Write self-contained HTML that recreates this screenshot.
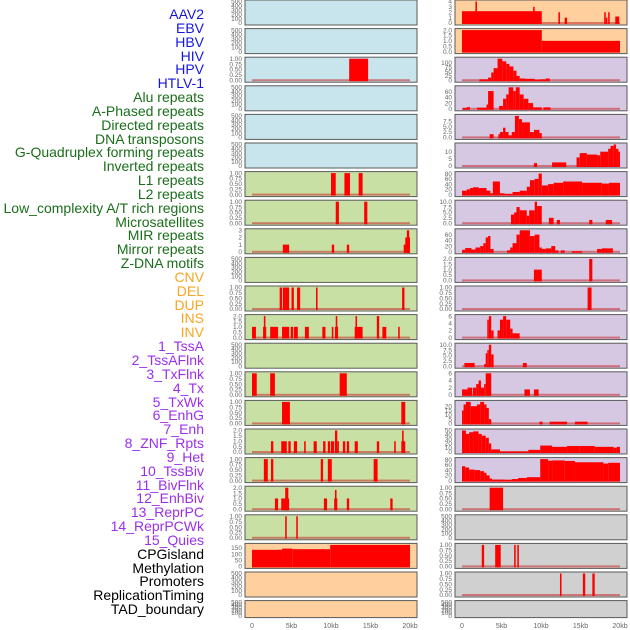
<!DOCTYPE html>
<html><head><meta charset="utf-8">
<style>
html,body{margin:0;padding:0;background:#fff;width:630px;height:630px;overflow:hidden}
#labels{position:absolute;left:0;top:0;width:204px;height:630px}
.lb{position:absolute;right:0;font-family:"Liberation Sans",sans-serif;font-size:14px;line-height:14px;white-space:nowrap}
svg{position:absolute;left:0;top:0}
</style></head><body>
<div id="labels"></div>
<svg id="chart" width="630" height="630"></svg>
<script>
// ---- track labels ----
const labelNames = ["AAV2","EBV","HBV","HIV","HPV","HTLV-1","Alu repeats","A-Phased repeats","Directed repeats","DNA transposons","G-Quadruplex forming repeats","Inverted repeats","L1 repeats","L2 repeats","Low_complexity A/T rich regions","Microsatellites","MIR repeats","Mirror repeats","Z-DNA motifs","CNV","DEL","DUP","INS","INV","1_TssA","2_TssAFlnk","3_TxFlnk","4_Tx","5_TxWk","6_EnhG","7_Enh","8_ZNF_Rpts","9_Het","10_TssBiv","11_BivFlnk","12_EnhBiv","13_ReprPC","14_ReprPCWk","15_Quies","CPGisland","Methylation","Promoters","ReplicationTiming","TAD_boundary"];
const labelGroups = [6,13,5,15,5];
const groupColors = ["#1515e0","#1a6e1a","#f5a623","#9b30e8","#000000"];

// ---- tick label sets ----
const t500 = ["0","100","200","300","400","500"], v500=[0,100,200,300,400,500];
const t1 = ["0.00","0.25","0.50","0.75","1.00"], v1=[0,0.25,0.5,0.75,1];
const t2 = ["0.0","0.5","1.0","1.5","2.0"], v2=[0,0.5,1,1.5,2];
const t3 = ["0","1","2","3"], v3=[0,1,2,3];
const tCpg=["0","50","100","150"], vCpg=[0,50,100,150];
const t4=["0","1","2","3","4"], v4=[0,1,2,3,4];
const tHpv=["0","25","50","75","100"], vHpv=[0,25,50,75,100];
const t60=["0","20","40","60"], v60=[0,20,40,60];
const t75=["0.0","2.5","5.0","7.5"], v75=[0,2.5,5,7.5];
const t10=["0","5","10"], v10=[0,5,10];
const t80=["0","20","40","60","80"], v80=[0,20,40,60,80];
const t100=["0.0","2.5","5.0","7.5","10.0"], v100=[0,2.5,5,7.5,10];
const t6=["0","2","4","6"], v6=[0,2,4,6];
const t20=["0","5","10","15","20"], v20=[0,5,10,15,20];
const t50=["0","10","20","30","40","50"], v50=[0,10,20,30,40,50];

// ---- middle column data [startKb, endKb, value] ----
const m3=[[12.3,14.7,1]];
const m7=[[10.0,10.6,1],[11.7,12.4,1],[13.5,14.0,1]];
const m8=[[10.6,11.0,1],[14.2,14.6,1]];
const m9=[[3.9,4.7,1],[10.1,10.4,1],[12.0,12.3,1],[19.2,20,1],[19.4,20,2],[19.6,19.9,3]];
const m11=[[3.5,3.8,1],[3.9,4.3,1],[4.3,4.7,1],[5.0,5.3,1],[5.7,6.1,1],[8.1,8.3,1],[19.0,19.3,1]];
const m12=[[0,0.5,1],[1.4,1.8,1],[1.5,1.7,2],[2.3,3.3,1],[3.8,4.7,1],[4.9,5.2,1],[5.3,5.8,1],[6.7,7.2,1],[8.9,9.3,1],[10.1,10.3,1],[10.5,10.9,1],[10.6,10.8,2],[13.0,14.0,1],[13.1,13.3,2],[15.8,16.1,2],[16.5,17.0,1],[18.5,18.7,1]];
const m14=[[0,0.6,1],[2.3,2.9,1],[11.1,12.0,1]];
const m15=[[3.8,4.8,1],[18.9,19.4,1]];
const m16=[[2.4,2.7,1],[3.7,4.4,1],[4.6,4.9,1],[5.3,5.7,1],[6.6,6.8,1],[7.8,8.2,1],[9.0,9.3,1],[9.6,9.9,1],[10.0,10.4,1],[10.5,10.8,2],[10.8,11.0,1],[11.5,11.8,1],[12.0,12.3,1],[13.0,13.4,1],[15.8,16.1,1],[18.0,18.2,1],[18.9,19.4,1],[19.0,19.2,2]];
const m17=[[1.5,2.0,1],[2.4,2.7,1],[8.7,9.0,1],[9.6,10.1,1],[15.4,15.9,1]];
const m18=[[2.9,3.3,1],[3.7,4.7,1],[4.2,4.6,2],[9.1,9.5,1],[10.4,10.8,1],[10.5,10.7,1.8],[12.0,12.3,1],[17.5,17.8,1]];
const m19=[[4.2,4.4,1],[5.6,5.8,1]];
const m20=[[0,3.8,135],[3.8,5.1,145],[5.1,9.9,140],[9.9,20,175]];

// ---- right column data ----
const r1=[[0,10.1,2.2],[1.7,1.9,4],[9.0,9.2,3],[12.2,12.4,2],[13.0,13.3,1],[18.0,18.2,2],[18.2,18.4,1],[18.5,18.7,2],[19.4,19.9,1.2]];
const r2=[[0,10.1,2],[10.1,20,1]];
const r3=[[2.2,3.3,5],[3.3,3.7,15],[3.7,4.0,45],[4.0,4.5,70],[4.5,5.1,125],[5.1,5.6,110],[5.6,6.0,95],[6.0,6.5,80],[6.5,6.9,55],[6.9,7.3,25],[7.3,8.0,10],[8.0,9.2,8],[9.2,9.9,3],[9.9,10.6,5],[10.6,11.1,10]];
const r4=[[0.1,0.6,3],[0.6,1.0,6],[1.9,3.1,4],[3.1,3.3,15],[3.3,4.0,62],[4.7,5.2,10],[5.2,5.6,35],[5.6,5.9,50],[5.9,6.5,75],[6.5,6.8,62],[6.8,7.3,75],[7.3,7.8,50],[7.8,8.4,35],[8.4,9.0,20],[9.0,10.1,5],[10.3,11.2,5]];
const r5=[[3.5,4.0,1.5],[4.6,4.8,1.5],[4.8,5.2,2.5],[5.2,5.5,4.5],[5.5,5.9,2.5],[5.9,6.3,1],[6.3,6.7,2.5],[6.7,7.2,10],[7.2,7.6,8.5],[7.6,8.6,7],[8.6,9.1,2.5],[9.1,9.8,3.5],[9.8,10.1,2]];
const r6=[[9.1,9.5,2],[11.4,13.2,2.5],[14.5,14.9,6],[14.9,15.8,9],[15.8,17.1,8],[17.1,17.5,7.5],[17.5,18.5,10],[18.5,18.8,12],[18.8,19.2,14],[19.2,19.5,15],[19.5,19.8,12],[19.8,20,10]];
const r7=[[0,0.6,15],[0.6,1.0,20],[1.0,1.4,25],[1.4,2.1,28],[2.1,3.1,25],[3.1,3.6,15],[3.6,3.9,5],[3.9,4.8,50],[4.8,5.4,5],[5.4,6.4,2],[6.4,7.3,10],[7.3,8.2,15],[8.2,8.6,30],[8.6,9.2,55],[9.2,9.7,60],[9.7,10.1,80],[10.1,10.9,35],[10.9,11.6,40],[11.6,12.8,45],[12.8,15.2,50],[15.2,17.7,45],[17.7,18.6,42],[18.6,20,45]];
const r8=[[6.2,6.6,4],[6.6,6.9,5],[6.9,7.3,7.5],[7.3,8.2,6],[8.2,8.5,3.5],[8.5,9.2,6],[9.2,9.5,10],[9.5,10.1,8],[11.0,11.6,2.5],[12.0,12.4,1.5],[16.1,16.5,1.5],[18.2,19.0,1.5]];
const r9=[[0,0.4,7],[0.4,1.2,13],[1.2,1.7,8],[1.7,2.3,15],[2.3,2.7,20],[2.7,3.0,30],[3.0,3.3,50],[3.3,3.6,55],[3.6,4.0,10],[5.7,6.1,5],[6.1,6.4,15],[6.4,6.9,30],[6.9,7.3,60],[7.3,8.6,75],[8.6,9.2,55],[9.2,9.8,60],[9.8,10.1,15],[10.1,10.6,10],[10.6,11.3,12],[11.3,11.8,20],[11.8,12.2,5],[12.5,13.0,5],[13.9,15.2,2],[17.1,17.7,10],[17.7,19.1,12]];
const r10=[[9.1,10.1,1],[16.1,16.5,2]];
const r11=[[15.9,16.4,1]];
const r12=[[3.2,3.4,5],[3.4,3.7,6],[3.7,4.0,2],[4.5,4.8,2],[4.8,5.2,5],[5.2,5.6,6],[5.6,6.1,5],[6.1,6.4,2.5],[6.4,7.3,1.2]];
const r13=[[0.3,1.6,1.5],[2.8,3.0,1],[3.0,3.2,6],[3.2,3.4,7.5],[3.4,3.7,10],[3.7,4.0,5.5],[7.7,8.2,1.5]];
const r14=[[0,0.7,1.5],[0.7,1.3,2],[1.4,1.8,2],[1.8,2.1,3],[2.1,2.4,4],[2.4,2.8,2],[2.8,3.0,3],[3.0,3.7,6],[7.9,8.6,1.5],[9.1,9.7,1.5]];
const r15=[[0,0.2,15],[0.2,0.5,22],[0.5,1.1,25],[1.1,1.9,20],[1.9,2.3,22],[2.3,2.8,25],[2.8,3.1,22],[3.1,3.4,18],[3.4,3.7,5],[9.8,10.2,2],[11.1,13.3,2],[14.3,15.9,2]];
const r16=[[0,0.5,50],[0.5,0.9,42],[0.9,1.4,46],[1.4,2.1,48],[2.1,2.5,42],[2.5,3.0,38],[3.0,3.4,33],[3.4,3.7,20],[3.7,4.8,6],[4.8,8.4,1],[8.4,9.9,5],[9.9,11.4,15],[11.4,13.3,12],[13.3,14.9,14],[14.9,16.8,14],[16.8,19.2,12],[19.2,19.6,10],[19.6,20,12]];
const r17=[[0,0.4,55],[0.4,0.9,50],[0.9,1.6,42],[1.6,2.3,40],[2.3,2.8,36],[2.8,3.1,30],[3.1,3.5,20],[3.5,3.8,8],[3.8,5.4,4],[5.4,6.3,3],[6.3,7.1,6],[7.1,8.2,10],[8.2,9.9,13],[9.9,10.9,82],[10.9,11.4,76],[11.4,13.0,77],[13.0,14.3,75],[14.3,17.9,70],[17.9,18.5,65],[18.5,20,68]];
const r18=[[3.5,5.2,1]];
const r20=[[2.5,2.8,1],[4.2,4.9,1],[6.6,6.8,1],[7.0,7.2,1]];
const r21=[[12.4,12.6,1],[15.3,15.6,1],[16.5,16.8,1]];

const BLUE="#c8e4ec", GREEN="#c8e0a4", PEACH="#ffd09e", PURPLE="#d6c7e2", GRAY="#d0d0d0";
const midRows=[
 [BLUE,t500,v500,500,null],[BLUE,t500,v500,500,null],[BLUE,t1,v1,1,m3],[BLUE,t500,v500,500,null],[BLUE,t500,v500,500,null],[BLUE,t500,v500,500,null],
 [GREEN,t1,v1,1,m7],[GREEN,t1,v1,1,m8],[GREEN,t3,v3,3,m9],[GREEN,t500,v500,500,null],[GREEN,t1,v1,1,m11],[GREEN,t2,v2,2,m12],[GREEN,t500,v500,500,null],
 [GREEN,t1,v1,1,m14],[GREEN,t1,v1,1,m15],[GREEN,t2,v2,2,m16],[GREEN,t1,v1,1,m17],[GREEN,t2,v2,2,m18],[GREEN,t1,v1,1,m19],
 [PEACH,tCpg,vCpg,175,m20],[PEACH,t500,v500,500,null],[PEACH,t500,v500,500,null]];
const rightRows=[
 [PEACH,t4,v4,4,r1],[PEACH,t2,v2,2,r2],[PURPLE,tHpv,vHpv,125,r3],[PURPLE,t60,v60,75,r4],[PURPLE,t75,v75,10,r5],[PURPLE,t10,v10,15,r6],[PURPLE,t80,v80,82,r7],
 [PURPLE,t100,v100,10,r8],[PURPLE,t60,v60,75,r9],[PURPLE,t2,v2,2,r10],[PURPLE,t1,v1,1,r11],[PURPLE,t6,v6,6,r12],[PURPLE,t100,v100,10,r13],[PURPLE,t6,v6,6,r14],
 [PURPLE,t20,v20,25,r15],[PURPLE,t50,v50,50,r16],[PURPLE,t80,v80,82,r17],[GRAY,t1,v1,1,r18],[GRAY,t500,v500,500,null],[GRAY,t1,v1,1,r20],[GRAY,t1,v1,1,r21],[GRAY,t500,v500,500,null]];
const xTicks=[0,5,10,15,20], xTickLabels=["0","5kb","10kb","15kb","20kb"];

// ---- labels ----
const L=document.getElementById('labels');
let gi=0,cnt=0;
labelNames.forEach((n,i)=>{
  while(cnt>=labelGroups[gi]){cnt=0;gi++;}
  cnt++;
  const d=document.createElement('div');
  d.className='lb';
  d.style.top=(15+i*13.84-8)+'px';
  d.style.color=groupColors[gi];
  d.textContent=n;
  
  
  L.appendChild(d);
});

// ---- chart ----
const S=document.getElementById('chart'), NS="http://www.w3.org/2000/svg";
function mk(tag,attrs,parent){const e=document.createElementNS(NS,tag);for(const k in attrs)e.setAttribute(k,attrs[k]);(parent||S).appendChild(e);return e;}
function drawColumn(rows,px0,colName){
  const x0=px0, w=172, z=px0+7, kbw=7.9;
  const xs=kb=>z+kb*kbw;
  rows.forEach((r,i)=>{
    const [bg,tl,tv,ymax,data]=r;
    const top=i*28.6, h=(i===21?17:25);
    const g=mk('g',{});
    
    
    mk('rect',{x:x0,y:top,width:w,height:h,fill:bg,stroke:'#5a5a5a','stroke-width':1},g);
    const y0=top+h-2, y1=top+1.5;
    const ys=v=>y0-(v/ymax)*(y0-y1);
    tv.forEach((v,k)=>{
      const t=mk('text',{x:x0-3,y:ys(v)+2.2,'text-anchor':'end','font-size':6.5,fill:'#666','font-family':'Liberation Sans, sans-serif'},g);
      t.textContent=tl[k];
      
      
    });
    if(data){
      mk('rect',{x:xs(0),y:y0-1,width:xs(20)-xs(0),height:2,fill:'rgba(200,40,40,0.55)'},g);
      data.forEach(s=>{
        const b=mk('rect',{x:xs(s[0]),y:ys(s[2]),width:Math.max(1,xs(s[1])-xs(s[0])),height:y0-ys(s[2])+1,fill:'#ff0000'},g);
        
        
      });
    }
  });
  xTicks.forEach((v,k)=>{
    const t=mk('text',{x:xs(v),y:628,'text-anchor':'middle','font-size':7,fill:'#666','font-family':'Liberation Sans, sans-serif'});
    t.textContent=xTickLabels[k];
    
    
  });
}
drawColumn(midRows,245,'mid');
drawColumn(rightRows,455,'right');
</script>
</body></html>
